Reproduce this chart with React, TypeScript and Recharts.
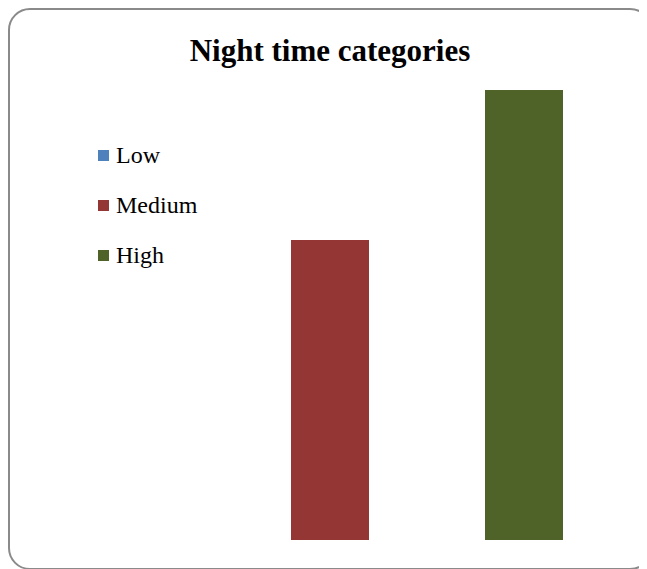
import React from "react";
import { BarChart, Bar, XAxis, YAxis } from "recharts";

const categories = ["Night time"];
const seriesNames = ["Low", "Medium", "High"];
const seriesValues = [0, 20, 30];
const seriesColors = ["#4F81BD", "#943634", "#4F6228"];

const data = categories.map((name) => {
  const row: Record<string, string | number> = { name };
  seriesNames.forEach((s, i) => {
    row[s] = seriesValues[i];
  });
  return row;
});

const serif = '"Liberation Serif", "Times New Roman", serif';

export default function App() {
  return (
    <div style={{ position: "relative", width: 644, height: 562 }}>
      <style>{"html, body { overflow: hidden; }"}</style>
      <div
        style={{
          position: "absolute",
          inset: 0,
          border: "2px solid #8a8a8a",
          borderRadius: 22,
          boxSizing: "border-box",
        }}
      />
      <div
        style={{
          position: "absolute",
          top: 27,
          left: 0,
          width: 644,
          textAlign: "center",
          fontFamily: serif,
          fontWeight: "bold",
          fontSize: 31,
          lineHeight: "31px",
          color: "#000",
        }}
      >
        Night time categories
      </div>
      {/* legend */}
      <div
        style={{
          position: "absolute",
          left: 90,
          top: 122,
          fontFamily: serif,
          fontSize: 24,
          color: "#000",
        }}
      >
        {seriesNames.map((s, i) => (
          <div
            key={s}
            style={{ display: "flex", alignItems: "center", height: 50 }}
          >
            <span
              style={{
                display: "inline-block",
                width: 11,
                height: 11,
                background: seriesColors[i],
                marginRight: 7,
              }}
            />
            <span>{s}</span>
          </div>
        ))}
      </div>
      <div style={{ position: "absolute", top: 0, left: 0 }}>
        <BarChart
          width={644}
          height={562}
          data={data}
          margin={{ top: 82, right: 20, bottom: 30, left: 20 }}
          barGap={116}
        >
          <XAxis dataKey="name" hide />
          <YAxis hide domain={[0, 30]} />
          {seriesNames.map((s, i) => (
            <Bar
              key={s}
              dataKey={s}
              fill={seriesColors[i]}
              barSize={78}
              isAnimationActive={false}
            />
          ))}
        </BarChart>
      </div>
    </div>
  );
}
